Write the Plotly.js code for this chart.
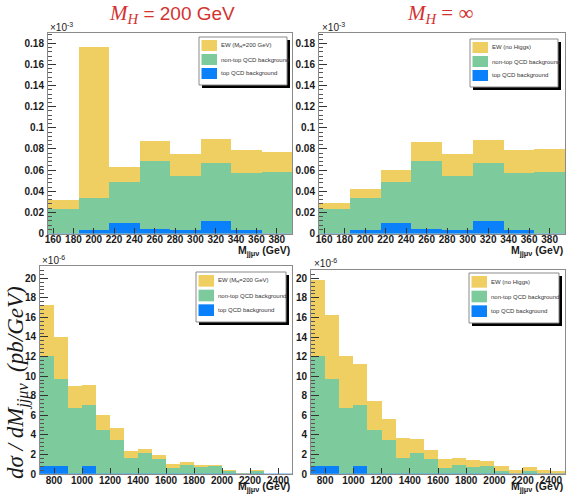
<!DOCTYPE html>
<html>
<head>
<meta charset="utf-8">
<script src="https://cdn.plot.ly/plotly-3.0.1.min.js"></script>
<style>html,body{margin:0;padding:0;background:#fff;}#chart{width:567px;height:495px;}</style>
</head>
<body>
<div id="chart"></div>
<script>
// ---- data ----
// top row: M_jjmunu bins of 30 GeV (155-395 GeV), bin centres; values in units of 10^-3
const massTop = [170, 200, 230, 260, 290, 320, 350, 380];
const ewH200Top     = [0.0316, 0.177, 0.063, 0.0878, 0.075, 0.089, 0.079, 0.0767];
const ewNoHiggsTop  = [0.029, 0.0417, 0.060, 0.0868, 0.075, 0.0884, 0.079, 0.080];
const nonTopQcdTop  = [0.023, 0.034, 0.049, 0.0688, 0.0546, 0.0672, 0.0575, 0.058];
const topQcdTop     = [0, 0.003, 0.0095, 0.0047, 0.003, 0.012, 0.003, 0];
// bottom row: bins of 100 GeV (700-2500 GeV), bin centres; values in units of 10^-6
const massBottom = [750, 850, 950, 1050, 1150, 1250, 1350, 1450, 1550, 1650, 1750, 1850, 1950, 2050, 2150, 2250, 2350, 2450];
const ewH200Bottom    = [17.3, 14.0, 9.0, 9.1, 6.05, 4.75, 2.3, 2.55, 1.97, 1.0, 1.2, 0.9, 0.95, 0.45, 0.15, 0.4, 0, 0];
const ewNoHiggsBottom = [19.8, 16.2, 12.1, 11.2, 7.5, 5.6, 3.7, 3.6, 2.5, 1.5, 1.6, 1.4, 1.35, 0.8, 0.45, 0.7, 0.45, 0.3];
const nonTopQcdBottom = [12.1, 9.75, 6.75, 7.05, 4.45, 3.45, 1.65, 2.1, 1.5, 0.65, 0.88, 0.75, 0.82, 0.32, 0.05, 0.35, 0.05, 0];
const topQcdBottom    = [0.8, 0.8, 0, 0.8, 0, 0, 0, 0, 0, 0, 0, 0, 0, 0, 0, 0, 0, 0];

const legendLabels = {
  ewH200: 'EW (M<sub>H</sub>=200 GeV)',
  ewNoHiggs: 'EW (no Higgs)',
  nonTop: 'non-top QCD background',
  top: 'top QCD background'
};
const xTopTicks = [160, 180, 200, 220, 240, 260, 280, 300, 320, 340, 360, 380];
const xBottomTicks = [800, 1000, 1200, 1400, 1600, 1800, 2000, 2200, 2400];

// ---- style ----
const W = 567, H = 495;
const cYellow = '#f0cf62', cGreen = '#7dca9c', cBlue = '#0a80fb';
const px = v => v / W, py = v => 1 - v / H;

function bars(x, y, color, xa, ya, w) {
  return {type: 'bar', x: x, y: y, width: w, xaxis: xa, yaxis: ya,
    marker: {color: color, line: {width: 0}}, showlegend: false, hoverinfo: 'skip'};
}
const traces = [
  bars(massTop, ewH200Top, cYellow, 'x', 'y', 30),
  bars(massTop, nonTopQcdTop, cGreen, 'x', 'y', 30),
  bars(massTop, topQcdTop, cBlue, 'x', 'y', 30),
  bars(massTop, ewNoHiggsTop, cYellow, 'x2', 'y2', 30),
  bars(massTop, nonTopQcdTop, cGreen, 'x2', 'y2', 30),
  bars(massTop, topQcdTop, cBlue, 'x2', 'y2', 30),
  bars(massBottom, ewH200Bottom, cYellow, 'x3', 'y3', 100),
  bars(massBottom, nonTopQcdBottom, cGreen, 'x3', 'y3', 100),
  bars(massBottom, topQcdBottom, cBlue, 'x3', 'y3', 100),
  bars(massBottom, ewNoHiggsBottom, cYellow, 'x4', 'y4', 100),
  bars(massBottom, nonTopQcdBottom, cGreen, 'x4', 'y4', 100),
  bars(massBottom, topQcdBottom, cBlue, 'x4', 'y4', 100)
];

const tickFont = {family: 'Liberation Sans, Arial, sans-serif', size: 10, weight: 'bold', color: '#1a1a1a'};
function xax(dom, range, tv, anchor, standoff) {
  return {domain: dom, range: range, anchor: anchor, tickvals: tv, ticks: 'inside', ticklen: 6,
    tickcolor: '#333', showline: true, mirror: true, linecolor: '#8a8a8a', linewidth: 1, tickangle: 0,
    ticklabelstandoff: standoff,
    showgrid: false, zeroline: false, tickfont: tickFont, fixedrange: true};
}
function yax(dom, range, dtick, minor, anchor) {
  return {domain: dom, range: range, anchor: anchor, dtick: dtick, tick0: 0, ticks: 'inside', ticklen: 8,
    tickcolor: '#333', showline: true, mirror: true, linecolor: '#8a8a8a', linewidth: 1,
    showgrid: false, zeroline: false, tickfont: tickFont, ticklabelstandoff: 1,
    minor: {dtick: minor, ticks: 'inside', ticklen: 4, tickcolor: '#555', showgrid: false},
    fixedrange: true};
}

const dTL = {x: [px(48), px(292)], y: [py(233.5), py(33)]};
const dTR = {x: [px(319), px(565)], y: [py(233.5), py(33)]};
const dBL = {x: [px(40), px(292)], y: [py(474), py(266)]};
const dBR = {x: [px(311), px(565)], y: [py(474), py(269.5)]};

const shapes = [];
const annotations = [];
function legend(x0, y0, x1, y1, ewLabel) {
  shapes.push({type: 'rect', xref: 'paper', yref: 'paper', x0: px(x0 + 3), x1: px(x1 + 3), y0: py(y0 + 3), y1: py(y1 + 3),
    fillcolor: '#000', line: {width: 0}, layer: 'above'});
  shapes.push({type: 'rect', xref: 'paper', yref: 'paper', x0: px(x0), x1: px(x1), y0: py(y0), y1: py(y1),
    fillcolor: '#fff', line: {color: '#8a8a8a', width: 1}, layer: 'above'});
  const h = (y1 - y0);
  const cols = [cYellow, cGreen, cBlue];
  const labs = [ewLabel, legendLabels.nonTop, legendLabels.top];
  for (let i = 0; i < 3; i++) {
    const ya = y0 + 3 + i * (h - 6) / 3;
    const yb = ya + (h - 6) / 3 - 3;
    shapes.push({type: 'rect', xref: 'paper', yref: 'paper', x0: px(x0 + 2.5), x1: px(x0 + 18), y0: py(yb), y1: py(ya),
      fillcolor: cols[i], line: {width: 0}, layer: 'above'});
    annotations.push({xref: 'paper', yref: 'paper', x: px(x0 + 20), y: py((ya + yb) / 2), xanchor: 'left', yanchor: 'middle',
      text: labs[i], showarrow: false, font: {family: 'Liberation Sans, Arial, sans-serif', size: 6, color: '#333'}});
  }
}
legend(199, 37, 287, 85, legendLabels.ewH200);
legend(470, 39, 558, 87, legendLabels.ewNoHiggs);
legend(196, 272, 286, 322, legendLabels.ewH200);
legend(469, 273, 559, 323, legendLabels.ewNoHiggs);

// blue zero-level line of the top-QCD histograms
[['x', 'y'], ['x2', 'y2'], ['x3', 'y3'], ['x4', 'y4']].forEach(([xa, ya]) => {
  shapes.push({type: 'line', xref: xa + ' domain', yref: ya, x0: 0, x1: 1, y0: 0, y1: 0,
    line: {color: '#5aa6f0', width: 1.2}, layer: 'above'});
});

const titleFont = {family: 'Liberation Sans, Arial, sans-serif', size: 19, color: '#d3322f'};
annotations.push({xref: 'paper', yref: 'paper', x: px(172), y: py(14), xanchor: 'center', yanchor: 'middle', showarrow: false,
  text: '<span style="font-family:Liberation Serif;font-size:21px"><i>M</i><sub><i>H</i></sub></span> = 200 GeV', font: titleFont});
annotations.push({xref: 'paper', yref: 'paper', x: px(440), y: py(14), xanchor: 'center', yanchor: 'middle', showarrow: false,
  text: '<span style="font-family:Liberation Serif;font-size:21px"><i>M</i><sub><i>H</i></sub> = ∞</span>', font: titleFont});

const expFont = {family: 'Liberation Sans, Arial, sans-serif', size: 10, color: '#222'};
[[48, 27, '×10<sup>-3</sup>'], [320, 27, '×10<sup>-3</sup>'], [40, 260, '×10<sup>-6</sup>'], [312, 263, '×10<sup>-6</sup>']].forEach(([x, y, t]) => {
  annotations.push({xref: 'paper', yref: 'paper', x: px(x), y: py(y), xanchor: 'left', yanchor: 'middle', showarrow: false, text: t, font: expFont});
});

const axTitleFont = {family: 'Liberation Sans, Arial, sans-serif', size: 10.5, weight: 'bold', color: '#1a1a1a'};
[[292, 251], [565, 251], [292, 487], [565, 487]].forEach(([x, y]) => {
  annotations.push({xref: 'paper', yref: 'paper', x: px(x), y: py(y), xanchor: 'right', yanchor: 'middle', showarrow: false,
    text: 'M<sub>jjμν</sub> (GeV)', font: axTitleFont});
});
annotations.push({xref: 'paper', yref: 'paper', x: px(17), y: py(383), xanchor: 'center', yanchor: 'middle', showarrow: false,
  textangle: -90, text: '<i>dσ / dM<sub>jjμν</sub>  (pb/GeV)</i>',
  font: {family: 'Liberation Serif, serif', size: 23, color: '#1a1a1a'}});

const layout = {
  width: W, height: H, margin: {l: 0, r: 0, t: 0, b: 0},
  paper_bgcolor: '#fff', plot_bgcolor: '#fff', barmode: 'overlay', bargap: 0, showlegend: false,
  xaxis: xax(dTL.x, [155, 395], xTopTicks, 'y', -4),
  yaxis: yax(dTL.y, [0, 0.1898], 0.02, 0.004, 'x'),
  xaxis2: xax(dTR.x, [155, 395], xTopTicks, 'y2', -4),
  yaxis2: yax(dTR.y, [0, 0.1898], 0.02, 0.004, 'x2'),
  xaxis3: xax(dBL.x, [700, 2500], xBottomTicks, 'y3', -3),
  yaxis3: yax(dBL.y, [0, 21.25], 2, 0.4, 'x3'),
  xaxis4: xax(dBR.x, [700, 2500], xBottomTicks, 'y4', -3),
  yaxis4: yax(dBR.y, [0, 20.9], 2, 0.4, 'x4'),
  shapes: shapes, annotations: annotations
};
Plotly.newPlot('chart', traces, layout, {displayModeBar: false, staticPlot: true});
</script>
</body>
</html>
